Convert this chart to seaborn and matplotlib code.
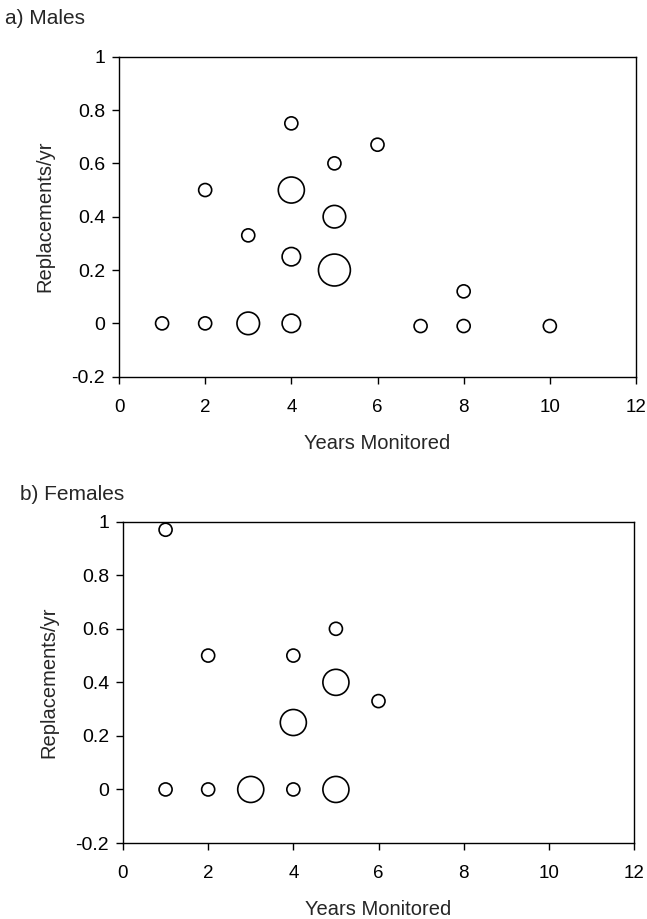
import matplotlib
matplotlib.use("Agg")
import matplotlib.pyplot as plt
import seaborn as sns
import pandas as pd
from matplotlib.ticker import FuncFormatter

# Data: years monitored, replacements per year, number of birds (bubble size)
male_years = [1, 2, 3, 4, 7, 8, 10, 8, 2, 3, 4, 4, 4, 5, 5, 5, 6]
male_repl = [0.0, 0.0, 0.0, 0.0, -0.01, -0.01, -0.01, 0.12, 0.5, 0.33, 0.25, 0.5, 0.75, 0.6, 0.4, 0.2, 0.67]
male_n = [1, 1, 3, 2, 1, 1, 1, 1, 1, 1, 2, 4, 1, 1, 3, 6, 1]

female_years = [1, 2, 3, 4, 5, 1, 2, 4, 5, 5, 6, 4]
female_repl = [0.0, 0.0, 0.0, 0.0, 0.0, 0.97, 0.5, 0.5, 0.6, 0.4, 0.33, 0.25]
female_n = [1, 1, 4, 1, 4, 1, 1, 1, 1, 4, 1, 4]

x_ticks = [0, 2, 4, 6, 8, 10, 12]
y_ticks = [-0.2, 0, 0.2, 0.4, 0.6, 0.8, 1.0]
panel_titles = ["a) Males", "b) Females"]
x_label = "Years Monitored"
y_label = "Replacements/yr"

sns.set_theme(style="ticks")
plt.rcParams["font.family"] = ["Liberation Sans", "DejaVu Sans"]

fig = plt.figure(figsize=(6.47, 9.19), dpi=100)
W, H = 647, 919

def px_axes(x0, x1, ytop, ybot):
    return fig.add_axes([x0 / W, 1 - ybot / H, (x1 - x0) / W, (ybot - ytop) / H])

ax_top = px_axes(119, 636, 56.7, 376.7)
ax_bot = px_axes(123, 634, 521.7, 843.0)

size_map = {k: 88 * k for k in range(1, 7)}

def yfmt(v, pos):
    s = f"{v:g}"
    if abs(v) < 1e-9:
        s = "0"
    return s

def draw(ax, xs, ys, ns):
    df = pd.DataFrame({"years": xs, "repl": ys, "n": ns})
    sns.scatterplot(data=df, x="years", y="repl", size="n", sizes=size_map,
                    color="white", edgecolor="black", linewidth=1.2,
                    legend=False, ax=ax, zorder=3, clip_on=False)
    ax.set_xlim(0, 12)
    ax.set_ylim(-0.2, 1.0)
    ax.set_xticks(x_ticks)
    ax.set_yticks(y_ticks)
    ax.yaxis.set_major_formatter(FuncFormatter(yfmt))
    ax.tick_params(axis="both", direction="out", length=5, width=1.0,
                   colors="black")
    ax.tick_params(axis="x", pad=11, labelsize=13.5)
    ax.tick_params(axis="y", pad=5, labelsize=14)
    for sp in ax.spines.values():
        sp.set_visible(True)
        sp.set_linewidth(1.0)
        sp.set_color("black")
    ax.set_xlabel(x_label, fontsize=14.5, labelpad=13)
    ax.set_ylabel(y_label, fontsize=14.5, labelpad=12)
    ax.grid(False)

draw(ax_top, male_years, male_repl, male_n)
draw(ax_bot, female_years, female_repl, female_n)

fig.text(5 / W, 1 - 18 / H, panel_titles[0], fontsize=15, va="center", ha="left")
fig.text(20 / W, 1 - 495 / H, panel_titles[1], fontsize=15, va="center", ha="left")

fig.savefig("out.png", dpi=100)
